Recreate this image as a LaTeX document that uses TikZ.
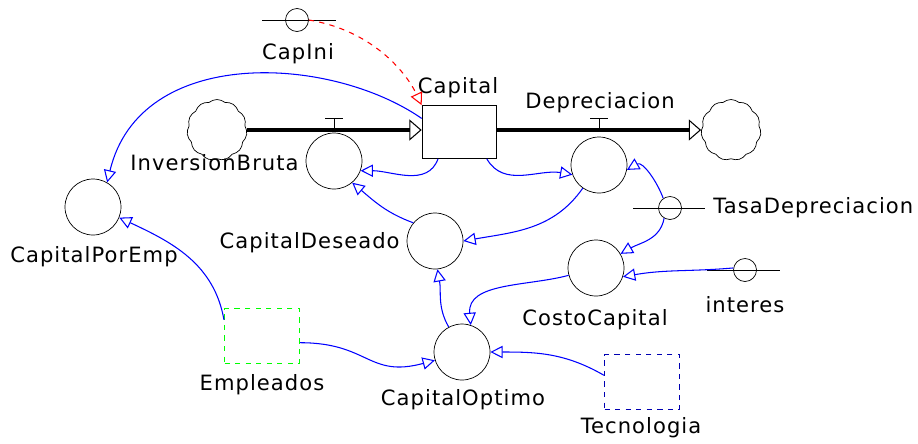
\documentclass[tikz,border=0pt]{standalone}
\usepackage{fontspec}
\setmainfont{DejaVu Sans}[LetterSpace=5]
\usetikzlibrary{calc,arrows.meta,shapes.symbols}

\tikzset{
  aux/.style={draw, circle, minimum size=1.12cm, inner sep=0pt},
  ghost/.style={draw, circle, minimum size=0.46cm, inner sep=0pt},
  stock/.style={draw, rectangle, minimum width=1.48cm, minimum height=1.06cm, inner sep=0pt},
  nube/.style={draw, cloud, cloud puffs=11, cloud puff arc=80, aspect=1, minimum width=1.2cm, minimum height=1.22cm, inner sep=0pt},
  pipe/.style={line width=2.8pt, -{Triangle[open, length=7pt, width=12pt, line width=0.6pt]}},
  link/.style={blue, line width=0.6pt, -{Triangle[open, length=7pt, width=7pt, line width=0.6pt]}},
  txt/.style={font=\fontsize{12}{14.4}\selectfont, inner sep=0pt}
}

\begin{document}
\begin{tikzpicture}[x=0.02cm, y=-0.02cm]
\useasboundingbox (0,0) rectangle (918,443);

% stock and clouds
\node[stock] (capital) at (459,132) {};
\node[txt] (capitalTxt) at (458,88) {Capital};
\node[nube] (nubeIzq) at (217,130) {};
\node[nube] (nubeDer) at (731,130) {};

% flows
\draw[pipe] (nubeIzq.east) -- (nubeIzq.east -| capital.west);
\draw[pipe] (nubeDer.west -| capital.east) -- (nubeDer.west);

% auxiliaries
\node[aux] (invBruta) at (334,161) {};
\node[txt, anchor=east] (invBrutaTxt) at (299,163) {InversionBruta};
\node[aux] (depr) at (599,165) {};
\node[txt] (deprTxt) at (600,103) {Depreciacion};
\node[aux] (deseado) at (435,241) {};
\node[txt, anchor=east] (deseadoTxt) at (400,243) {CapitalDeseado};
\node[aux] (costo) at (596,268) {};
\node[txt] (costoTxt) at (595,320) {CostoCapital};
\node[aux] (optimo) at (462,352) {};
\node[txt] (optimoTxt) at (463,400) {CapitalOptimo};
\node[aux] (porEmp) at (93,207) {};
\node[txt] (porEmpTxt) at (94,257) {CapitalPorEmp};

% valves
\draw (invBruta.north |- nubeIzq.east) -- +(0,-12) coordinate (vInv);
\draw ($(vInv)+(-9,0)$) -- ($(vInv)+(9,0)$);
\draw (depr.north |- nubeDer.west) -- +(0,-12) coordinate (vDep);
\draw ($(vDep)+(-9,0)$) -- ($(vDep)+(9,0)$);

% constants
\node[ghost] (capini) at (297,20) {};
\draw ($(capini)+(-35,0)$) -- ($(capini)+(39,0)$);
\node[txt] (capiniTxt) at (298,54) {CapIni};
\node[ghost] (tasa) at (670,208) {};
\draw ($(tasa)+(-37,0)$) -- ($(tasa)+(35,0)$);
\node[txt, anchor=west] (tasaTxt) at (713,208) {TasaDepreciacion};
\node[ghost] (interes) at (745,270) {};
\draw ($(interes)+(-38,0)$) -- ($(interes)+(35,0)$);
\node[txt] (interesTxt) at (745,305) {interes};

% data boxes
\node[draw, green, dashed, line width=0.6pt, minimum width=1.5cm, minimum height=1.1cm] (empleados) at (262,336) {};
\node[txt] (empleadosTxt) at (262,385) {Empleados};
\node[draw, blue!70!black, dashed, line width=0.6pt, minimum width=1.5cm, minimum height=1.1cm] (tecno) at (642,382) {};
\node[txt] (tecnoTxt) at (641,428) {Tecnologia};

% links
\draw[link, red, dashed] (capini.east) .. controls (370,30) and (405,70) .. (capital.north west);
\draw[link] (capital.160) .. controls (330,55) and (140,45) .. (porEmp.60);
\draw[link] (capital.232) to[out=-110, in=0] (invBruta.-20);
\draw[link] (capital.-44) to[out=-60, in=170] (depr.200);
\draw[link] (deseado.140) to[out=160, in=-40] (invBruta.-50);
\draw[link] (depr.235) to[out=-125, in=10] (deseado.east);
\draw[link] (tasa.125) to[out=110, in=30] (depr.-10);
\draw[link] (tasa.-120) to[out=-100, in=30] (costo.30);
\draw[link] (interes.170) to[out=185, in=10] (costo.-18);
\draw[link] (costo.195) to[out=195, in=95] (optimo.72);
\draw[link] (optimo.118) to[out=120, in=-80] (deseado.-85);
\draw[link] (empleados.-10) to[out=0, in=195, looseness=1.3] (optimo.197);
\draw[link] (tecno.170) to[out=150, in=0] (optimo.east);
\draw[link] (empleados.157) to[out=100, in=-25] (porEmp.-22);
\end{tikzpicture}
\end{document}
